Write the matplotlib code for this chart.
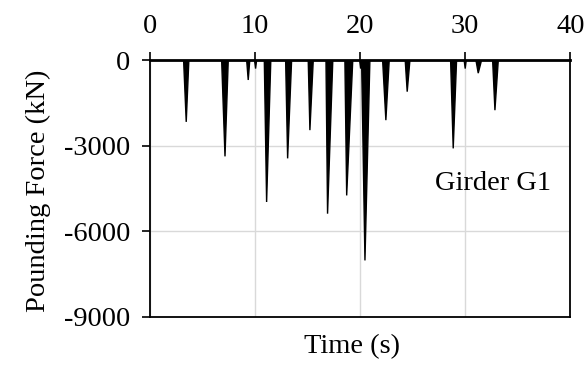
import matplotlib
matplotlib.use("Agg")
import matplotlib.pyplot as plt

plt.rcParams['font.family'] = ['Liberation Serif', 'DejaVu Serif']

# Pounding force pulses: start time, time of peak, end time (s), peak force (kN)
spike_start = [3.20, 6.82, 9.20, 9.95, 10.88, 12.91, 15.06, 16.75, 18.55, 19.95, 20.14, 22.14, 24.29, 28.61, 29.90, 31.02, 32.61]
spike_tip   = [3.45, 7.14, 9.35, 10.05, 11.10, 13.10, 15.22, 16.90, 18.72, 20.05, 20.46, 22.45, 24.48, 28.86, 30.00, 31.24, 32.83]
spike_end   = [3.70, 7.45, 9.50, 10.15, 11.50, 13.48, 15.54, 17.40, 19.30, 20.15, 20.93, 22.77, 24.74, 29.18, 30.10, 31.56, 33.15]
spike_peak  = [-2170, -3380, -700, -300, -4980, -3450, -2460, -5390, -4750, -300, -7030, -2110, -1110, -3100, -300, -460, -1760]

x_ticks = [0, 10, 20, 30, 40]
y_ticks = [0, -3000, -6000, -9000]

fig = plt.figure(figsize=(5.87, 3.66), dpi=100)
ax = fig.add_axes([0.2555, 0.135, 0.716, 0.701])

for s, t, e, p in zip(spike_start, spike_tip, spike_end, spike_peak):
    ax.fill([s, t, e], [0, p, 0], color='black', linewidth=1.0, zorder=3)

ax.set_xlim(0, 40)
ax.set_ylim(-9000, 0)
ax.xaxis.tick_top()
ax.set_xticks(x_ticks)
ax.set_yticks(y_ticks)
ax.set_xticklabels([str(v) for v in x_ticks])
ax.set_yticklabels([str(v) for v in y_ticks])
ax.tick_params(axis='both', labelsize=20.5, direction='out', length=6, width=1.2, color='black')
ax.tick_params(axis='x', pad=9)
ax.tick_params(axis='y', pad=8)

ax.grid(True, color='#d9d9d9', linewidth=1.0, zorder=0)
ax.set_axisbelow(True)

for side in ['left', 'right', 'bottom']:
    ax.spines[side].set_linewidth(1.3)
    ax.spines[side].set_zorder(4)
ax.spines['top'].set_linewidth(2.0)
ax.spines['top'].set_zorder(4)

ax.set_ylabel('Pounding Force (kN)', fontsize=20.5)
ax.yaxis.set_label_coords(-0.235, 0.49)
ax.set_xlabel('Time (s)', fontsize=20.5)
ax.xaxis.set_label_position('bottom')
ax.xaxis.set_label_coords(0.48, -0.068)

ax.text(27.1, -4330, 'Girder G1', fontsize=20.5, ha='left', va='center')

fig.savefig('out.png', dpi=100, facecolor='white')
